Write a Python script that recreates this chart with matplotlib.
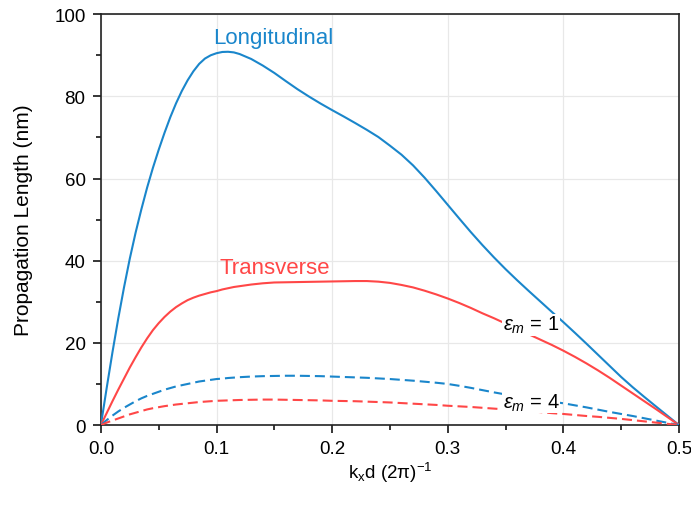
import numpy as np
import matplotlib
matplotlib.use('Agg')
import matplotlib.pyplot as plt
from matplotlib.ticker import MultipleLocator

plt.rcParams['font.family'] = ['Liberation Sans', 'DejaVu Sans']
plt.rcParams['mathtext.fontset'] = 'custom'
plt.rcParams['mathtext.rm'] = 'Liberation Sans'
plt.rcParams['mathtext.it'] = 'Liberation Sans:italic'

# k_x d / 2pi sample points
kx = [0, 0.005, 0.01, 0.015, 0.02, 0.025, 0.03, 0.035, 0.04, 0.045, 0.05, 0.055,
      0.06, 0.065, 0.07, 0.075, 0.08, 0.085, 0.09, 0.095, 0.1, 0.105, 0.11, 0.115, 0.12,
      0.13, 0.14, 0.15, 0.16, 0.17, 0.18, 0.19, 0.2, 0.21, 0.22, 0.23, 0.24, 0.25,
      0.26, 0.27, 0.28, 0.29, 0.3, 0.31, 0.32, 0.33, 0.34, 0.35, 0.36, 0.37, 0.38,
      0.39, 0.4, 0.41, 0.42, 0.43, 0.44, 0.45, 0.46, 0.47, 0.48, 0.49, 0.5]

# eps_m = 1
long_1 = [0, 9.0, 17.7, 25.9, 33.5, 40.5, 46.8, 52.5, 57.8, 62.6, 67.0, 71.1,
          74.9, 78.3, 81.3, 83.9, 86.1, 87.9, 89.2, 90.0, 90.5, 90.8, 90.85, 90.7, 90.3,
          89.1, 87.5, 85.7, 83.7, 81.75, 79.95, 78.25, 76.65, 75.1, 73.5, 71.85, 70.1, 68.0,
          65.8, 63.2, 60.2, 56.95, 53.6, 50.25, 46.95, 43.8, 40.8, 37.95, 35.25, 32.65, 30.1,
          27.55, 25.05, 22.45, 19.8, 17.1, 14.4, 11.7, 9.2, 6.85, 4.55, 2.27, 0]
trans_1 = [0, 2.9, 5.8, 8.6, 11.3, 14.0, 16.5, 18.9, 21.1, 23.1, 24.8, 26.3,
           27.6, 28.7, 29.6, 30.4, 31.0, 31.5, 31.9, 32.3, 32.6, 33.0, 33.3, 33.6, 33.8,
           34.2, 34.5, 34.7, 34.75, 34.8, 34.85, 34.9, 34.95, 35.0, 35.05, 35.05, 34.9, 34.6,
           34.1, 33.5, 32.7, 31.8, 30.8, 29.7, 28.5, 27.2, 26.0, 24.7, 23.4, 22.1, 20.8,
           19.5, 18.1, 16.6, 15.0, 13.3, 11.5, 9.6, 7.7, 5.8, 3.9, 1.95, 0]
# eps_m = 4
long_4 = [0, 1.2, 2.3, 3.3, 4.2, 5.0, 5.8, 6.5, 7.1, 7.6, 8.1, 8.6,
          9.0, 9.4, 9.7, 10.0, 10.3, 10.6, 10.8, 11.0, 11.2, 11.3, 11.45, 11.55, 11.65,
          11.8, 11.9, 11.95, 12.0, 12.0, 11.95, 11.9, 11.8, 11.7, 11.6, 11.5, 11.35, 11.2,
          11.0, 10.8, 10.55, 10.3, 10.0, 9.55, 9.05, 8.5, 7.95, 7.45, 6.95, 6.5, 6.1,
          5.7, 5.3, 4.8, 4.3, 3.75, 3.2, 2.7, 2.2, 1.65, 1.1, 0.55, 0]
trans_4 = [0, 0.6, 1.1, 1.6, 2.1, 2.6, 3.0, 3.4, 3.8, 4.1, 4.35, 4.6,
           4.8, 5.0, 5.15, 5.3, 5.45, 5.6, 5.7, 5.8, 5.9, 5.95, 6.0, 6.05, 6.1,
           6.15, 6.2, 6.2, 6.15, 6.1, 6.05, 6.0, 5.9, 5.85, 5.8, 5.7, 5.6, 5.5,
           5.35, 5.2, 5.05, 4.9, 4.7, 4.55, 4.4, 4.2, 4.0, 3.8, 3.6, 3.4, 3.15,
           2.9, 2.7, 2.45, 2.2, 2.0, 1.75, 1.5, 1.2, 0.9, 0.6, 0.3, 0]

blue = '#1a86cb'
red = '#ff4747'

fig = plt.figure(figsize=(6.91, 5.06), dpi=100)
ax = fig.add_axes([0.146, 0.158, 0.8366, 0.812])

ax.plot(kx, long_1, color=blue, lw=1.5, zorder=3)
ax.plot(kx, trans_1, color=red, lw=1.5, zorder=3)
ax.plot(kx, long_4, color=blue, lw=1.5, dashes=(4.8, 2.4), zorder=3)
ax.plot(kx, trans_4, color=red, lw=1.5, dashes=(4.8, 2.4), zorder=3)

ax.text(0.149, 94.4, 'Longitudinal', color=blue, fontsize=16, ha='center', va='center')
ax.text(0.15, 38.4, 'Transverse', color=red, fontsize=16, ha='center', va='center')
box = dict(facecolor='white', edgecolor='none', pad=0.5)
ax.text(0.372, 24.4, r'$\varepsilon_m$ = 1', fontsize=14.5, ha='center', va='center',
        bbox=box, zorder=4)
ax.text(0.372, 5.6, r'$\varepsilon_m$ = 4', fontsize=14.5, ha='center', va='center',
        bbox=box, zorder=4)

ax.set_xlim(0, 0.5)
ax.set_ylim(0, 100)
ax.xaxis.set_major_locator(MultipleLocator(0.1))
ax.xaxis.set_minor_locator(MultipleLocator(0.05))
ax.yaxis.set_major_locator(MultipleLocator(20))
ax.yaxis.set_minor_locator(MultipleLocator(10))
ax.xaxis.set_major_formatter(plt.FuncFormatter(lambda v, p: '%.1f' % v))
ax.grid(True, which='major', color='#e8e8e8', lw=0.9, zorder=0)
ax.tick_params(which='both', direction='out', top=False, right=False, labelsize=13.5, width=1.1)
ax.tick_params(which='major', length=6, pad=5)
ax.tick_params(which='minor', length=3.5)
for s in ax.spines.values():
    s.set_linewidth(1.2)
    s.set_color('#222222')

ax.set_xlabel(r'k$_\mathrm{x}$d (2π)$^{-1}$', fontsize=13.5, labelpad=2)
ax.set_ylabel('Propagation Length (nm)', fontsize=15, labelpad=15)

fig.savefig('out.png', dpi=100)
